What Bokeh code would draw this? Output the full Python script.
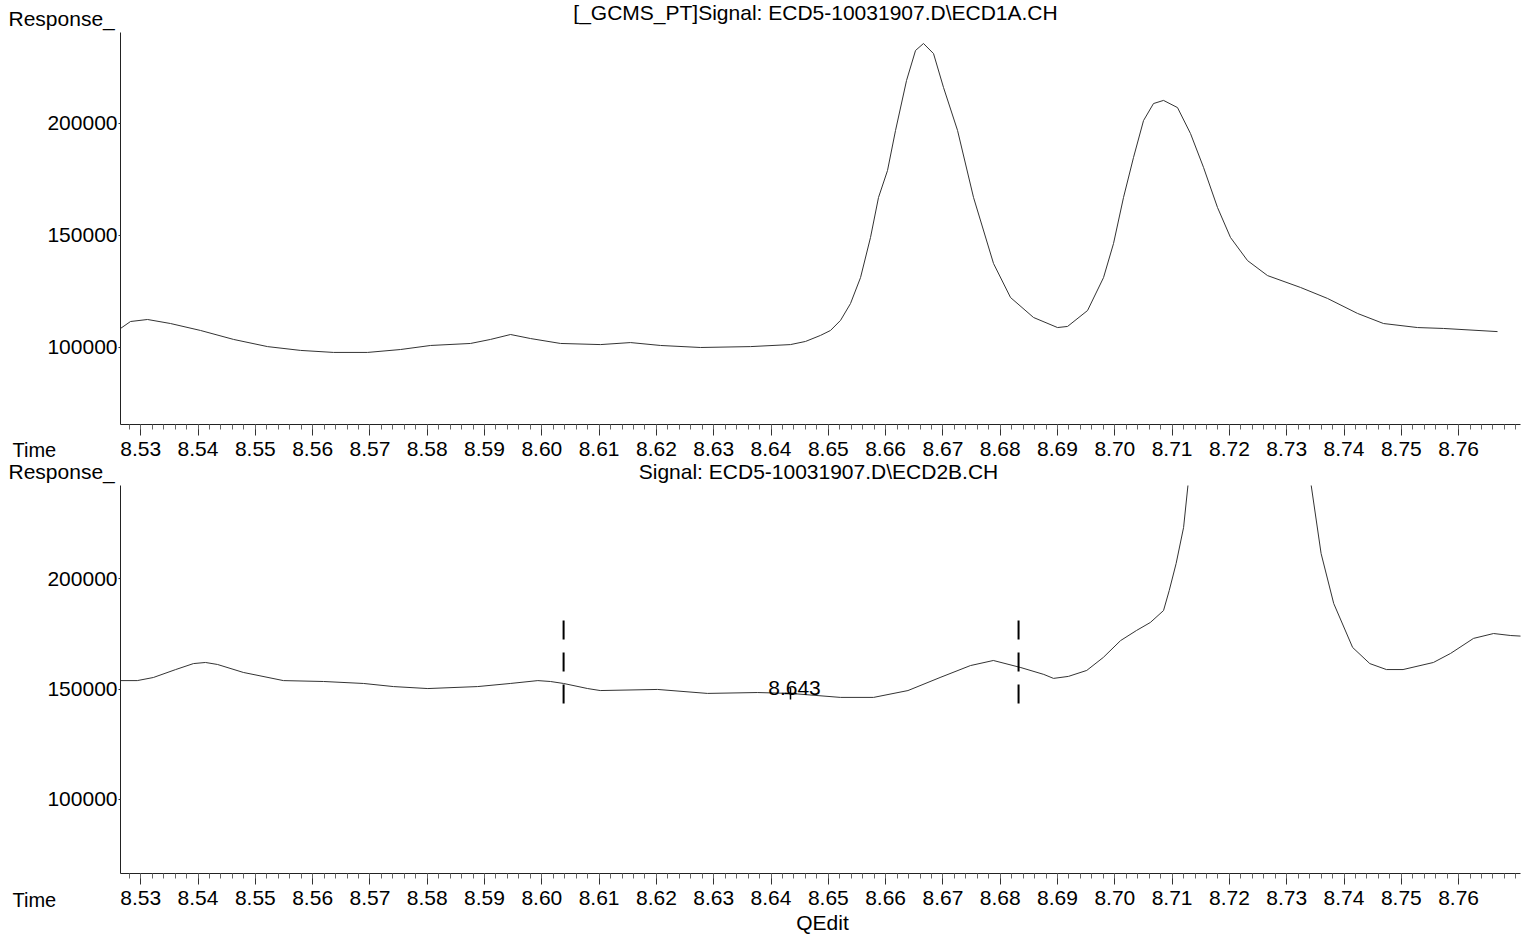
from bokeh.plotting import figure
from bokeh.models import Range1d, FixedTicker, PrintfTickFormatter, Label
from bokeh.layouts import column
from bokeh.embed import file_html
from bokeh.resources import INLINE

FONT = "Liberation Sans"

# ---- data ----
top_time = [8.52647, 8.52822, 8.53119, 8.53520, 8.54044, 8.54620, 8.55213, 8.55789, 8.56365, 8.56958,
            8.57534, 8.58058, 8.58756, 8.59105, 8.59454, 8.59803, 8.60326, 8.61024, 8.61548, 8.62072,
            8.62770, 8.63642, 8.64340, 8.64602, 8.64864, 8.65038, 8.65213, 8.65387, 8.65562, 8.65736,
            8.65876, 8.66033, 8.66173, 8.66365, 8.66522, 8.66661, 8.66836, 8.67010, 8.67255, 8.67534,
            8.67883, 8.68180, 8.68581, 8.69000, 8.69175, 8.69524, 8.69803, 8.69977, 8.70152, 8.70326,
            8.70501, 8.70675, 8.70850, 8.71094, 8.71321, 8.71548, 8.71792, 8.72019, 8.72316, 8.72665,
            8.73241, 8.73712, 8.74236, 8.74689, 8.75283, 8.75737, 8.76679]
top_resp = [108500, 111600, 112500, 110700, 107600, 103600, 100400, 98700, 97800, 97800,
            99100, 100900, 101800, 103600, 105800, 104000, 101800, 101300, 102200, 100900,
            100000, 100400, 101300, 102700, 105400, 107600, 112100, 119600, 131200, 149100,
            167000, 179000, 196900, 219200, 232600, 235700, 231200, 216100, 196900, 167000,
            137500, 122300, 113400, 108900, 109400, 116500, 131200, 146400, 167000, 184800,
            201300, 208900, 210300, 207100, 195500, 180400, 162500, 149100, 138800, 132100,
            126800, 121900, 115200, 110700, 108900, 108500, 107100]

bot_time = [8.5265, 8.5294, 8.5322, 8.5361, 8.5392, 8.5413, 8.5434, 8.5479, 8.5549, 8.5619,
            8.5689, 8.5741, 8.5801, 8.5888, 8.5945, 8.5993, 8.6015, 8.6038, 8.6080, 8.6102,
            8.6202, 8.6289, 8.6376, 8.6434, 8.6521, 8.6579, 8.6639, 8.6695, 8.6748, 8.6788,
            8.6836, 8.6876, 8.6893, 8.6919, 8.6951, 8.6980, 8.7010, 8.7038, 8.7062, 8.7085,
            8.7095, 8.7107, 8.7120, 8.7128, 8.7142, 8.7194, 8.7247, 8.7299, 8.7334, 8.7342,
            8.7360, 8.7382, 8.7415, 8.7445, 8.7474, 8.7503, 8.7556, 8.7586, 8.7626, 8.7661,
            8.7691, 8.7717]
bot_resp = [153800, 153800, 155200, 158800, 161500, 162000, 161100, 157500, 153800, 153400,
            152500, 151100, 150200, 151100, 152500, 153800, 153400, 152500, 150200, 149300,
            149800, 148000, 148400, 148000, 146200, 146200, 149300, 155200, 160600, 162900,
            159700, 156600, 154800, 155700, 158400, 164300, 171900, 176500, 180100, 185500,
            194600, 206800, 223100, 243000, 279200, 380000, 410000, 370000, 271500, 243400,
            211300, 188700, 168800, 161500, 158800, 158800, 162000, 166100, 172900, 175100,
            174200, 173800]

x_major = [round(8.53 + 0.01 * i, 2) for i in range(24)]
x_minor = [round(8.526 + 0.002 * i, 3) for i in range(123)]
y_major = [100000, 150000, 200000]

event_times = [8.6038, 8.6832]
event_top = 181000
event_bottom = 142500
peak_time = 8.6434
peak_resp = 148000
peak_text = "8.643"

top_title = "[_GCMS_PT]Signal: ECD5-10031907.D\\ECD1A.CH"
bot_title = "Signal: ECD5-10031907.D\\ECD2B.CH"
y_name = "Response_"
x_name = "Time"
footer = "QEdit"

X_RANGE = (8.52647, 8.77080)
TOP_Y = (65627, 240616)
BOT_Y = (66514, 242084)
W = 1537
LEFT = 120   # frame left edge (all rows share it)


def txt(x, y, t, align="left", size="21px"):
    return Label(x=x, y=y, x_units="screen", y_units="screen", text=t,
                 text_font=FONT, text_font_size=size, text_align=align,
                 text_baseline="middle", text_color="black")


def strip(h, left_y, center_text, center_x, center_y):
    """A text-only row; its frame lines up with the plot frames."""
    s = figure(width=W, height=h, x_range=Range1d(0, 1), y_range=Range1d(0, 1),
               x_axis_type=None, y_axis_type=None, output_backend="svg",
               toolbar_location=None, min_border=0,
               min_border_left=LEFT, min_border_right=17)
    s.outline_line_color = None
    s.grid.visible = False
    if left_y is not None:
        # sits in the left margin (its box ends at the frame's left edge)
        s.add_layout(txt(-6, left_y, y_name), "left")
    s.add_layout(txt(center_x - LEFT, center_y, center_text, "center"))
    return s


def plot(h, border_bottom, yr, time_sy):
    p = figure(width=W, height=h, x_range=Range1d(*X_RANGE), y_range=Range1d(*yr),
               output_backend="svg", toolbar_location=None,
               min_border_left=LEFT, min_border_right=17,
               min_border_top=0, min_border_bottom=border_bottom)
    p.grid.visible = False
    p.outline_line_color = None
    xa = p.xaxis[0]
    xa.ticker = FixedTicker(ticks=x_major, minor_ticks=x_minor)
    xa.formatter = PrintfTickFormatter(format="%.2f")
    xa.major_tick_out = 11
    xa.major_tick_in = 0
    xa.minor_tick_out = 5
    xa.minor_tick_in = 0
    xa.major_tick_line_color = "#333333"
    xa.minor_tick_line_color = "#666666"
    xa.axis_line_color = "#222222"
    xa.major_label_text_font = FONT
    xa.major_label_text_font_size = "21px"
    xa.major_label_text_color = "black"
    xa.major_label_standoff = 6
    ya = p.yaxis[0]
    ya.ticker = FixedTicker(ticks=y_major, minor_ticks=[])
    ya.formatter = PrintfTickFormatter(format="%d")
    ya.major_tick_out = 2
    ya.major_tick_in = 0
    ya.minor_tick_line_color = None
    ya.major_tick_line_color = "#333333"
    ya.axis_line_color = "#222222"
    ya.major_label_text_font = FONT
    ya.major_label_text_font_size = "21px"
    ya.major_label_text_color = "black"
    ya.major_label_standoff = 1
    # "Time" sits in the left panel, level with the x tick labels
    p.add_layout(txt(12, time_sy, x_name, size="20px"), "left")
    return p


header = strip(32, 14, top_title, 815, 20)

top = plot(427, 35, TOP_Y, -25)
top.line(top_time, top_resp, line_color="#333333", line_width=1)

mid = strip(26, 14, bot_title, 818, 14)

bot = plot(425, 37, BOT_Y, -26)
bot.line(bot_time, bot_resp, line_color="#333333", line_width=1)
bot.segment(x0=event_times, y0=[event_top] * len(event_times),
            x1=event_times, y1=[event_bottom] * len(event_times),
            line_color="black", line_width=2, line_dash="19 13")
bot.scatter([peak_time], [peak_resp], marker="cross", size=12, line_color="black", line_width=1.5)
bot.text(x=[peak_time], y=[peak_resp], text=[peak_text], x_offset=4, y_offset=-5,
         text_align="center", text_baseline="alphabetic", text_font_size="21px",
         text_color="black", text_font={"value": FONT})

foot = strip(25, None, footer, 822, 13)

layout = column(header, top, mid, bot, foot, spacing=0)
open("out.html", "w").write(file_html(layout, INLINE))
